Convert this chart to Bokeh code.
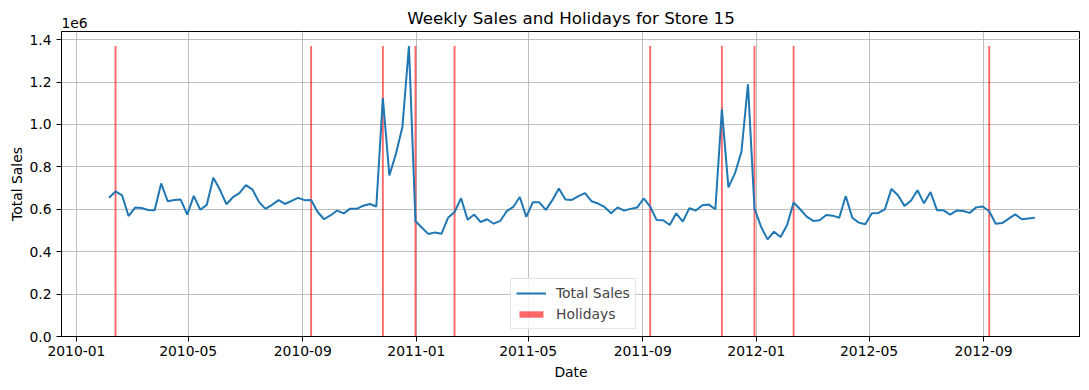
import pandas as pd
from bokeh.plotting import figure
from bokeh.models import (Range1d, MonthsTicker, DatetimeTickFormatter, CustomJSTickFormatter,
                          Legend, LegendItem, FixedTicker, LinearAxis)
from bokeh.embed import file_html
from bokeh.resources import INLINE

start_week = "2010-02-05"

sales = [
    654000, 684000, 666000, 568000, 608000, 606000, 597000, 595000, 722000, 638000,
    644000, 646000, 575000, 663000, 598000, 621000, 749000, 693000, 624000, 657000,
    676000, 714000, 693000, 635000, 602000, 621000, 643000, 625000, 640000, 654000,
    643000, 644000, 587000, 553000, 572000, 594000, 581000, 603000, 602000, 617000,
    625000, 613000, 1125000, 760000, 861000, 988000, 1370000, 545000, 513000, 483000,
    491000, 485000, 560000, 587000, 652000, 551000, 575000, 540000, 553000, 532000,
    545000, 591000, 611000, 658000, 564000, 633000, 633000, 597000, 643000, 698000,
    646000, 644000, 662000, 676000, 638000, 627000, 611000, 581000, 609000, 594000,
    602000, 608000, 651000, 613000, 549000, 548000, 526000, 581000, 542000, 605000,
    594000, 619000, 622000, 600000, 1071000, 703000, 769000, 872000, 1190000, 603000,
    518000, 458000, 494000, 469000, 526000, 632000, 600000, 565000, 545000, 548000,
    573000, 570000, 560000, 663000, 560000, 537000, 529000, 581000, 583000, 600000,
    696000, 666000, 616000, 640000, 690000, 628000, 681000, 595000, 595000, 575000,
    594000, 592000, 583000, 609000, 613000, 591000, 532000, 535000, 556000, 576000,
    553000, 557000, 560000,
]

holidays = ["2010-02-12", "2010-09-10", "2010-11-26", "2010-12-31", "2011-02-11",
            "2011-09-09", "2011-11-25", "2011-12-30", "2012-02-10", "2012-09-07"]

y_ticks = [0, 200000, 400000, 600000, 800000, 1000000, 1200000, 1400000]
title_text = "Weekly Sales and Holidays for Store 15"
offset_text = "1e6"

dates = pd.date_range(start_week, periods=len(sales), freq="7D")
hol_dates = pd.to_datetime(holidays)
peak = max(sales)

FONT = "DejaVu Sans"
x0 = pd.Timestamp("2009-12-16")
x1 = pd.Timestamp("2012-12-14")
FW, FH = 1019, 305

p = figure(frame_width=FW, frame_height=FH, x_axis_type="datetime",
           output_backend="svg", toolbar_location=None,
           x_range=Range1d(x0, x1), y_range=Range1d(0, peak * 1.05),
           min_border_left=0, min_border_right=0, min_border_top=0, min_border_bottom=0,
           margin=(4, 0, 0, 6))

p.outline_line_color = "black"
p.outline_line_width = 1
p.outline_line_alpha = 1

bars = p.vbar(x=hol_dates, top=peak, bottom=0, width=2 * 24 * 3600 * 1000,
              fill_color="red", fill_alpha=0.6, line_color=None)
line = p.line(dates, sales, line_width=2, color="#1f77b4")

p.xaxis.ticker = MonthsTicker(months=[0, 4, 8])
p.xaxis.formatter = DatetimeTickFormatter(months="%Y-%m", years="%Y-%m", days="%Y-%m")
p.yaxis.ticker = FixedTicker(ticks=y_ticks)
p.yaxis.formatter = CustomJSTickFormatter(code="return (tick/1e6).toFixed(1);")

for ax in (p.xaxis[0], p.yaxis[0]):
    ax.axis_line_color = "black"
    ax.major_tick_line_color = "black"
    ax.major_tick_out = 5
    ax.major_tick_in = 0
    ax.minor_tick_line_color = None
    ax.major_label_text_font = FONT
    ax.major_label_text_font_size = "13.9px"
    ax.major_label_text_color = "black"
    ax.axis_label_text_font = FONT
    ax.axis_label_text_font_size = "13.9px"
    ax.axis_label_text_font_style = "normal"
    ax.axis_label_text_color = "black"

p.xaxis.axis_label = "Date"
p.xaxis.major_label_standoff = 4
p.yaxis.axis_label = "Total Sales"
p.yaxis.axis_label_standoff = 1

p.grid.grid_line_color = "#b0b0b0"
p.grid.grid_line_width = 0.8

# top axis carrying the offset text "1e6" and the title (as its axis label)
p.extra_x_ranges = {"px": Range1d(0, FW)}
top = LinearAxis(x_range_name="px", ticker=FixedTicker(ticks=[13]),
                 formatter=CustomJSTickFormatter(code="return '%s';" % offset_text),
                 axis_line_color=None, major_tick_line_color=None, minor_tick_line_color=None,
                 major_tick_out=0, major_tick_in=0, major_label_standoff=4,
                 major_label_text_font=FONT, major_label_text_font_size="13.9px",
                 major_label_text_color="black",
                 axis_label=title_text, axis_label_standoff=-13,
                 axis_label_text_font=FONT, axis_label_text_font_size="16.7px",
                 axis_label_text_font_style="normal", axis_label_text_color="black")
p.add_layout(top, "above")

legend = Legend(items=[LegendItem(label="Total Sales", renderers=[line]),
                       LegendItem(label="Holidays", renderers=[bars])],
                location=(449, 7), label_text_font=FONT, label_text_font_size="13.9px",
                glyph_width=30, glyph_height=8, label_height=18, spacing=3, padding=5,
                margin=0, label_standoff=10, border_line_color="#cccccc",
                background_fill_alpha=0.8)
p.add_layout(legend)

open("out.html", "w").write(file_html(p, INLINE))
